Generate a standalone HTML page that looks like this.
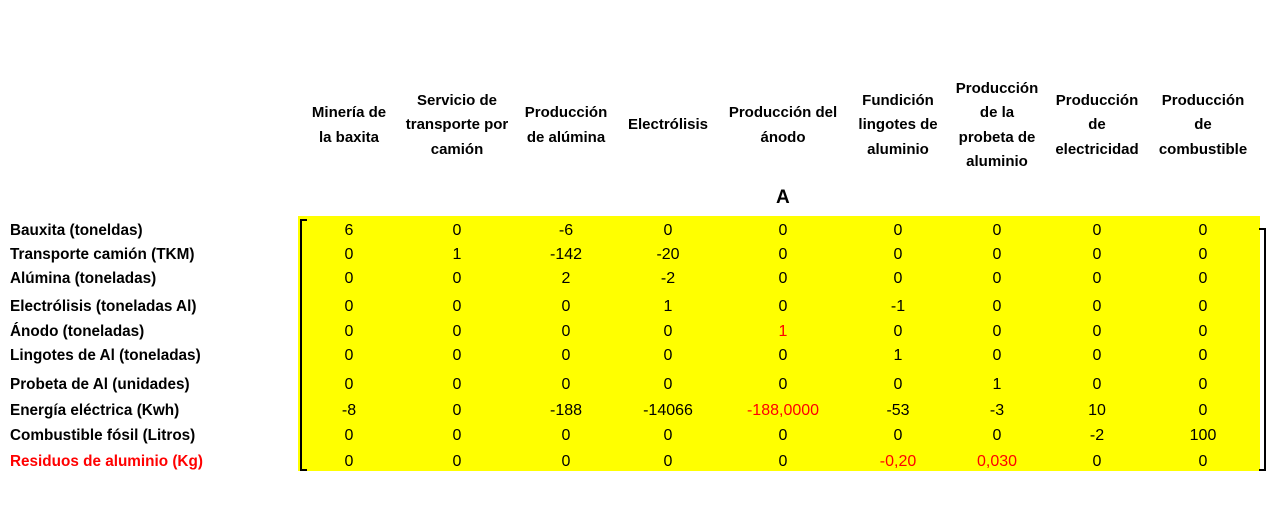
<!DOCTYPE html>
<html><head><meta charset="utf-8"><style>
body{margin:0;width:1277px;height:512px;background:#fff;position:relative;overflow:hidden;font-family:"Liberation Sans",sans-serif;}
.h{position:absolute;font-weight:bold;font-size:15px;line-height:24.5px;text-align:center;width:120px;transform:translateX(-50%);}
.l{position:absolute;left:10px;font-weight:bold;font-size:15.3px;transform:translateY(-50%);white-space:nowrap;}
.c{position:absolute;font-size:16px;transform:translate(-50%,-50%);white-space:nowrap;}
.red{color:#f00;}
</style></head><body>
<div style="position:absolute;left:298px;top:216px;width:962px;height:255px;background:#ffff00;"></div>
<div style="position:absolute;left:300px;top:219px;width:5px;height:248px;border:2px solid #000;border-right:none;"></div>
<div style="position:absolute;left:1259px;top:228px;width:5px;height:239px;border:2px solid #000;border-left:none;"></div>
<div style="position:absolute;left:776px;top:187px;font-weight:bold;font-size:19px;">A</div>
<div id="root"></div>
<script>
const headers=[["Minería de","la baxita"],["Servicio de","transporte por","camión"],["Producción","de alúmina"],["Electrólisis"],["Producción del","ánodo"],["Fundición","lingotes de","aluminio"],["Producción","de la","probeta de","aluminio"],["Producción","de","electricidad"],["Producción","de","combustible"]];
const rowLabels=["Bauxita (toneldas)","Transporte camión (TKM)","Alúmina (toneladas)","Electrólisis (toneladas Al)","Ánodo (toneladas)","Lingotes de Al (toneladas)","Probeta de Al (unidades)","Energía eléctrica (Kwh)","Combustible fósil (Litros)","Residuos de aluminio (Kg)"];
const values=[
["6","0","-6","0","0","0","0","0","0"],
["0","1","-142","-20","0","0","0","0","0"],
["0","0","2","-2","0","0","0","0","0"],
["0","0","0","1","0","-1","0","0","0"],
["0","0","0","0","1","0","0","0","0"],
["0","0","0","0","0","1","0","0","0"],
["0","0","0","0","0","0","1","0","0"],
["-8","0","-188","-14066","-188,0000","-53","-3","10","0"],
["0","0","0","0","0","0","0","-2","100"],
["0","0","0","0","0","-0,20","0,030","0","0"]];
const redCells=[[4,4],[7,4],[9,5],[9,6]];
const colX=[349,457,566,668,783,898,997,1097,1203];
const rowY=[231,255,279,307,332,356,385,411,436,462];
const root=document.getElementById('root');
headers.forEach((h,i)=>{
  const d=document.createElement('div');d.className='h';
  
  
  d.style.left=colX[i]+'px';d.style.top=(125.5-h.length*12.25)+'px';
  d.innerHTML=h.join('<br>');root.appendChild(d);
});
rowLabels.forEach((t,r)=>{
  const d=document.createElement('div');d.className='l'+(r===9?' red':'');
  
  
  d.style.top=rowY[r]+'px';d.textContent=t;root.appendChild(d);
  values[r].forEach((v,c)=>{
    const e=document.createElement('div');
    const isRed=redCells.some(p=>p[0]===r&&p[1]===c);
    e.className='c'+(isRed?' red':'');
    
    
    e.style.left=colX[c]+'px';e.style.top=rowY[r]+'px';e.textContent=v;root.appendChild(e);
  });
});
</script>
</body></html>
